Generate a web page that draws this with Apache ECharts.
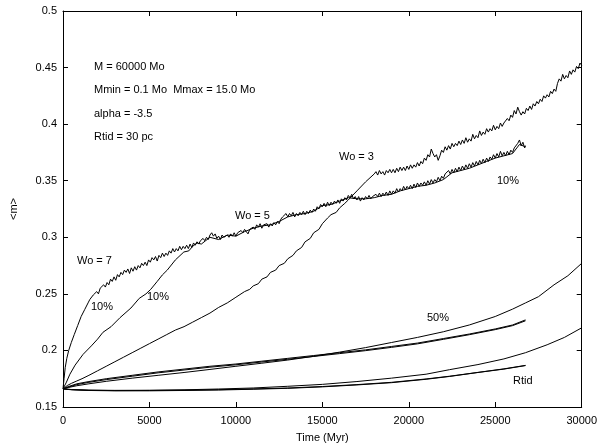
<!DOCTYPE html>
<html>
<head>
<meta charset="utf-8">
<script src="https://cdn.jsdelivr.net/npm/echarts@6/dist/echarts.min.js"></script>
<style>html,body{margin:0;padding:0;background:#fff}#c{width:600px;height:448px}</style>
</head>
<body>
<div id="c"></div>
<script>
// ---- data (time in Myr, <m> in Mo) ----
const xTicks = [0, 5000, 10000, 15000, 20000, 25000, 30000];
const yTicks = [0.15, 0.2, 0.25, 0.3, 0.35, 0.4, 0.45, 0.5];

// Wo = 7, 10% Lagrangian radius (continues after merging with Wo = 5)
const wo7_10 = [[0,0.166],[60,0.175],[130,0.185],[220,0.193],[330,0.200],[480,0.207],[650,0.214],[850,0.222],[1050,0.230],[1250,0.236],[1450,0.242],[1550,0.245],[1650,0.244],[1750,0.249],[1850,0.248],[1950,0.252],[2050,0.250],[2150,0.255],[2250,0.254],[2350,0.258],[2450,0.256],[2550,0.260],[2650,0.258],[2750,0.263],[2850,0.261],[2950,0.265],[3050,0.262],[3150,0.267],[3250,0.265],[3350,0.269],[3450,0.267],[3550,0.271],[3650,0.269],[3750,0.272],[3850,0.268],[3950,0.273],[4050,0.270],[4150,0.274],[4250,0.271],[4350,0.275],[4450,0.273],[4550,0.277],[4650,0.275],[4750,0.278],[4850,0.275],[4950,0.280],[5050,0.278],[5150,0.282],[5250,0.280],[5350,0.283],[5450,0.279],[5550,0.284],[5650,0.282],[5750,0.286],[5850,0.283],[5950,0.286],[6050,0.284],[6150,0.288],[6250,0.286],[6350,0.290],[6450,0.287],[6550,0.290],[6650,0.288],[6750,0.292],[6850,0.289],[6950,0.292],[7050,0.290],[7150,0.293],[7250,0.290],[7350,0.294],[7450,0.291],[7550,0.295],[7650,0.293],[7750,0.296],[7850,0.294],[7950,0.297],
[8100,0.299],[8200,0.297],[8300,0.300],[8400,0.298],[8500,0.302],[8600,0.304],[8700,0.301],[8800,0.303],[8900,0.299],[9000,0.301],[9100,0.298],[9200,0.302],[9300,0.300],[9400,0.299],[9500,0.302],[9600,0.300],[9700,0.303],[9800,0.301],[9900,0.304],[10000,0.301],[10100,0.304],[10200,0.303],[10300,0.306],[10400,0.304],[10500,0.307],[10600,0.305],[10700,0.303],[10800,0.307],[10900,0.306],[11000,0.309],[11100,0.307],[11200,0.311],[11300,0.309],[11400,0.312],[11500,0.308],[11600,0.311],[11700,0.310],[11800,0.312],[11900,0.309],[12000,0.312],[12100,0.310],[12200,0.313],[12300,0.311],[12400,0.314],[12500,0.312],[12600,0.316],[12700,0.318],[12800,0.317],[12900,0.321],[13000,0.318],[13100,0.321],[13200,0.319],[13300,0.322],[13400,0.318],[13500,0.321],[13600,0.319],[13700,0.322],[13800,0.320],[13900,0.323],[14000,0.320],[14100,0.323],[14200,0.321],[14300,0.324],[14400,0.322],[14500,0.325],[14600,0.323],[14700,0.327],[14800,0.325],[14900,0.329],[15000,0.327],[15100,0.330],[15200,0.327],[15300,0.331],[15400,0.328],[15500,0.331],[15600,0.329],[15700,0.332],[15800,0.330],[15900,0.333],[16000,0.330],[16100,0.334],[16200,0.332],[16300,0.335],[16400,0.333],[16500,0.337],[16600,0.335],[16700,0.338],[16800,0.334],[16900,0.336],[17000,0.333],[17100,0.336],[17200,0.332],[17300,0.335],[17400,0.333],[17500,0.336],[17600,0.334],[17700,0.337],[17800,0.334],[17900,0.336],[18000,0.335],[18100,0.338],[18200,0.336],[18300,0.339],[18400,0.336],[18500,0.339],[18600,0.337],[18700,0.340],[18800,0.337],[18900,0.341],[19000,0.338],[19100,0.341],[19200,0.339],[19300,0.343],[19400,0.340],[19500,0.343],[19600,0.341],[19700,0.345],[19800,0.342],[19900,0.345],[20000,0.343],[20100,0.346],[20200,0.343],[20300,0.347],[20400,0.344],[20500,0.348],[20600,0.345],[20700,0.348],[20800,0.346],[20900,0.349],[21000,0.346],[21100,0.350],[21200,0.347],[21300,0.351],[21400,0.348],[21500,0.351],[21600,0.349],[21700,0.353],[21800,0.350],[21900,0.354],[22000,0.352],[22100,0.356],[22200,0.355],[22300,0.359],[22400,0.356],[22500,0.360],[22600,0.357],[22700,0.361],[22800,0.358],[22900,0.362],[23000,0.359],[23100,0.363],[23200,0.360],[23300,0.364],[23400,0.361],[23500,0.365],[23600,0.362],[23700,0.366],[23800,0.363],[23900,0.367],[24000,0.364],[24100,0.368],[24200,0.365],[24300,0.369],[24400,0.366],[24500,0.370],[24600,0.367],[24700,0.371],[24800,0.369],[24900,0.373],[25000,0.370],[25100,0.374],[25200,0.371],[25300,0.376],[25400,0.372],[25500,0.375],[25600,0.372],[25700,0.376],[25800,0.373],[25900,0.377],[26000,0.375],[26100,0.379],[26200,0.378],[26300,0.383],[26400,0.386],[26500,0.381],[26600,0.384],[26700,0.379],[26750,0.381]];

// Wo = 5, 10% Lagrangian radius
const wo5_10 = [[0,0.166],[200,0.172],[400,0.179],[700,0.187],[1160,0.1965],[1640,0.204],[2000,0.210],[2310,0.216],[2780,0.221],[3300,0.229],[3930,0.2375],[4410,0.246],[4800,0.250],[5075,0.254],[5450,0.261],[5745,0.2667],[6030,0.271],[6500,0.280],[6990,0.287],[7275,0.288],[7500,0.292],[7750,0.295],[8000,0.294],[8250,0.297],[8500,0.300],[9000,0.298],[9500,0.302],[10000,0.301],[10500,0.305],[11000,0.308],[11500,0.310],[12000,0.311],[12500,0.314],[13000,0.318],[13500,0.320],[14000,0.321],[14500,0.323],[15000,0.328],[15500,0.329],[16000,0.332],[16500,0.335],[17000,0.334],[17500,0.334],[18000,0.335],[18500,0.337],[19000,0.338],[19500,0.341],[20000,0.343],[20500,0.345],[21000,0.346],[21500,0.348],[22000,0.351],[22500,0.357],[23000,0.359],[23500,0.361],[24000,0.364],[24500,0.367],[25000,0.370],[25500,0.372],[26000,0.374],[26400,0.382],[26750,0.380]];

// Wo = 3, 10% Lagrangian radius
const wo3_10 = [[0,0.166],[250,0.169],[500,0.171],[800,0.173],[1100,0.175],[1500,0.178],[2000,0.182],[2500,0.186],[3000,0.190],[3500,0.194],[4000,0.198],[4500,0.202],[5000,0.206],[5500,0.210],[6000,0.214],[6500,0.218],[7000,0.221],[7500,0.225],[8000,0.229],[8500,0.233],[9000,0.238],[9500,0.242],[10000,0.247],[10500,0.252],[10800,0.254],[11000,0.257],[11300,0.259],[11500,0.263],[11800,0.265],[12000,0.269],[12300,0.271],[12500,0.275],[12800,0.277],[13000,0.281],[13300,0.284],[13500,0.288],[13800,0.291],[14000,0.296],[14300,0.299],[14500,0.304],[14800,0.307],[15000,0.312],[15300,0.317],[15500,0.320],[15800,0.322],[16000,0.326],[16300,0.330],[16500,0.333],[17000,0.341],[17500,0.349],[18000,0.356],[18100,0.358],[18200,0.355],[18300,0.359],[18400,0.356],[18500,0.358],[18600,0.355],[18700,0.359],[18800,0.357],[18900,0.360],[19000,0.357],[19100,0.360],[19200,0.357],[19300,0.361],[19400,0.358],[19500,0.362],[19600,0.359],[19700,0.362],[19800,0.359],[19900,0.363],[20000,0.360],[20100,0.364],[20200,0.361],[20300,0.364],[20400,0.362],[20500,0.366],[20600,0.363],[20700,0.367],[20800,0.365],[20900,0.370],[21000,0.368],[21100,0.373],[21200,0.371],[21300,0.378],[21400,0.374],[21500,0.371],[21600,0.373],[21700,0.368],[21800,0.372],[21900,0.377],[22000,0.375],[22100,0.380],[22200,0.377],[22300,0.381],[22400,0.378],[22500,0.383],[22600,0.380],[22700,0.383],[22800,0.381],[22900,0.385],[23000,0.382],[23100,0.386],[23200,0.383],[23300,0.388],[23400,0.384],[23500,0.387],[23600,0.385],[23700,0.391],[23800,0.387],[23900,0.390],[24000,0.388],[24100,0.394],[24200,0.390],[24300,0.393],[24400,0.391],[24500,0.396],[24600,0.393],[24700,0.396],[24800,0.394],[24900,0.399],[25000,0.395],[25100,0.398],[25200,0.396],[25300,0.401],[25400,0.398],[25500,0.401],[25600,0.400],[25700,0.405],[25800,0.403],[25900,0.408],[26000,0.406],[26100,0.412],[26200,0.409],[26300,0.415],[26400,0.411],[26500,0.408],[26600,0.411],[26700,0.409],[26800,0.414],[26900,0.412],[27000,0.416],[27100,0.413],[27200,0.418],[27300,0.416],[27400,0.420],[27500,0.418],[27600,0.422],[27700,0.420],[27800,0.425],[27900,0.423],[28000,0.426],[28100,0.424],[28200,0.429],[28300,0.427],[28400,0.431],[28500,0.429],[28600,0.436],[28700,0.440],[28800,0.438],[28900,0.444],[29000,0.440],[29100,0.443],[29200,0.441],[29300,0.447],[29400,0.444],[29500,0.448],[29600,0.446],[29700,0.451],[29800,0.449],[29900,0.454],[30000,0.452]];

// 50% Lagrangian radius
const wo7_50 = [[0,0.166],[300,0.168],[800,0.1705],[1500,0.1725],[2500,0.175],[4000,0.178],[5500,0.181],[7000,0.1835],[8500,0.186],[10000,0.188],[11500,0.1905],[13000,0.193],[14500,0.1955],[16000,0.198],[17500,0.2005],[19000,0.2035],[20500,0.2065],[22000,0.2105],[23500,0.2145],[25000,0.219],[26000,0.2225],[26750,0.227]];
const wo5_50 = [[0,0.166],[300,0.1675],[800,0.1698],[1500,0.1718],[2500,0.1742],[4000,0.1772],[5500,0.1802],[7000,0.1827],[8500,0.1852],[10000,0.1873],[11500,0.1898],[13000,0.1922],[14500,0.1947],[16000,0.1972],[17500,0.1998],[19000,0.2027],[20500,0.2058],[22000,0.2098],[23500,0.2139],[25000,0.2184],[26000,0.2219],[26750,0.2262]];
const wo3_50 = [[0,0.166],[300,0.1672],[800,0.1688],[1500,0.1705],[2500,0.1727],[4000,0.1755],[5500,0.178],[7000,0.1805],[8500,0.1832],[10000,0.186],[11500,0.1887],[13000,0.1915],[14500,0.1948],[16000,0.1985],[17500,0.2025],[19000,0.207],[20500,0.2115],[22000,0.2165],[23500,0.2225],[25000,0.230],[26000,0.2365],[26750,0.242],[27500,0.2475],[28400,0.258],[29200,0.266],[30000,0.277]];

// tidal radius
const wo7_rt = [[0,0.166],[500,0.1652],[1500,0.1646],[3000,0.1643],[5000,0.1643],[7000,0.1646],[9000,0.165],[11000,0.1657],[13000,0.1665],[15000,0.1678],[17000,0.1695],[19000,0.1715],[21000,0.1745],[22360,0.177],[24000,0.1805],[25500,0.1835],[26750,0.1866]];
const wo5_rt = [[0,0.166],[500,0.1654],[1500,0.1648],[3000,0.1645],[5000,0.1646],[7000,0.1649],[9000,0.1653],[11000,0.166],[13000,0.1668],[15000,0.1681],[17000,0.1698],[19000,0.1718],[21000,0.1748],[22360,0.1772],[24000,0.1806],[25500,0.1837],[26750,0.1868]];
const wo3_rt = [[0,0.166],[500,0.1654],[1500,0.1649],[3000,0.1647],[5000,0.1648],[7000,0.1652],[9000,0.1659],[11000,0.1668],[13000,0.1683],[15000,0.170],[17000,0.1725],[19000,0.1755],[21000,0.179],[22360,0.183],[24000,0.1875],[25500,0.1925],[26750,0.198],[28000,0.205],[29000,0.2115],[30000,0.22]];

const seriesList = [wo7_10, wo5_10, wo3_10, wo7_50, wo5_50, wo3_50, wo7_rt, wo5_rt, wo3_rt];

const FONT = '"Liberation Sans", Arial, sans-serif';
const notes = [
  ['M = 60000 Mo', 94, 68],
  ['Mmin = 0.1 Mo  Mmax = 15.0 Mo', 94, 91],
  ['alpha = -3.5', 94, 114.5],
  ['Rtid = 30 pc', 94, 138],
  ['Wo = 7', 77, 262],
  ['10%', 91, 308],
  ['10%', 147, 297.5],
  ['Wo = 5', 235, 217],
  ['Wo = 3', 339, 158],
  ['10%', 497, 182],
  ['50%', 427, 319],
  ['Rtid', 513, 382]
];

const chart = echarts.init(document.getElementById('c'), null, {renderer: 'canvas'});
const axisCommon = {
  type: 'value',
  axisLine: {show: true, onZero: false, lineStyle: {color: '#000', width: 1}},
  axisTick: {show: true, inside: true, length: 5, lineStyle: {color: '#000', width: 1}},
  splitLine: {show: false}
};
chart.setOption({
  animation: false,
  backgroundColor: '#fff',
  grid: {left: 60, right: 16.5, top: 11, bottom: 38.5, containLabel: false},
  xAxis: [
    Object.assign({}, axisCommon, {
      position: 'bottom', min: xTicks[0], max: xTicks[xTicks.length - 1], interval: xTicks[1] - xTicks[0],
      axisLabel: {color: '#000', fontSize: 11, fontFamily: FONT, margin: 8, formatter: v => String(v)},
      name: 'Time (Myr)', nameLocation: 'middle', nameGap: 25,
      nameTextStyle: {color: '#000', fontSize: 11, fontFamily: FONT}
    }),
    Object.assign({}, axisCommon, {
      position: 'top', min: xTicks[0], max: xTicks[xTicks.length - 1], interval: xTicks[1] - xTicks[0],
      axisLabel: {show: false}
    })
  ],
  yAxis: [
    Object.assign({}, axisCommon, {
      position: 'left', min: yTicks[0], max: yTicks[yTicks.length - 1], interval: 0.05,
      axisLabel: {color: '#000', fontSize: 11, fontFamily: FONT, margin: 6,
        formatter: v => String(+v.toFixed(2))},
      name: '<m>', nameLocation: 'middle', nameGap: 44,
      nameTextStyle: {color: '#000', fontSize: 11, fontFamily: FONT}
    }),
    Object.assign({}, axisCommon, {
      position: 'right', min: yTicks[0], max: yTicks[yTicks.length - 1], interval: 0.05,
      axisLabel: {show: false}
    })
  ],
  series: seriesList.map(d => ({
    type: 'line', data: d, xAxisIndex: 0, yAxisIndex: 0,
    showSymbol: false, symbol: 'none', smooth: false, clip: true,
    lineStyle: {color: '#000', width: 1}
  })),
  graphic: notes.map(n => ({
    type: 'text', left: n[1], top: n[2] - 6.5, silent: true,
    style: {text: n[0], fill: '#000', font: '11px ' + FONT}
  }))
});
</script>
</body>
</html>
